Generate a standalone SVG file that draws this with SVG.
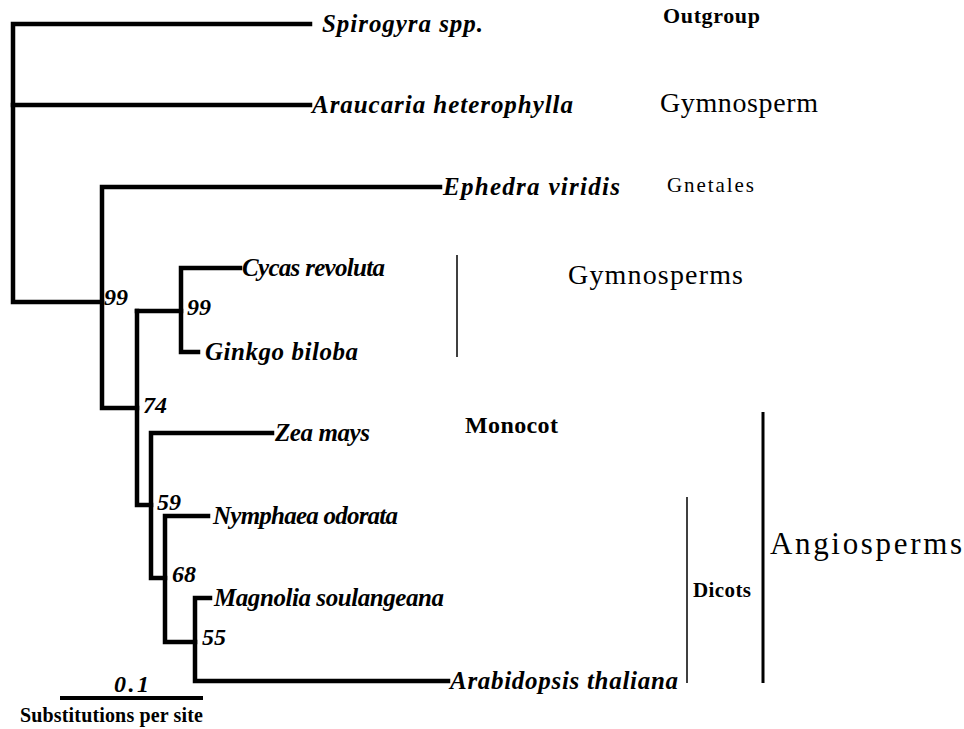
<svg xmlns="http://www.w3.org/2000/svg" width="964" height="729" viewBox="0 0 964 729">
<style>
.br{fill:none;stroke:#000;stroke-width:4.5;stroke-linecap:square;stroke-linejoin:miter}
.tx{font-family:"Liberation Serif","Times New Roman",serif;font-style:italic;font-weight:bold;font-size:25px;fill:#000}
.bs{font-family:"Liberation Serif","Times New Roman",serif;font-style:italic;font-weight:bold;font-size:24px;fill:#000}
.lb{font-family:"Liberation Serif","Times New Roman",serif;fill:#000}
.bar{stroke:#000;fill:none}
</style>
<rect width="964" height="729" fill="#fff"/>
<g id="connectors">
<path class="br" d="M310,24 H13 V302 H102"/>
<path class="br" d="M13,105 H310"/>
<path class="br" d="M440,187 H102 V408 H137"/>
<path class="br" d="M240,268 H181 V352 H198"/>
<path class="br" d="M137,311 H181"/>
<path class="br" d="M137,311 V505 H151"/>
<path class="br" d="M272,433 H151 V578 H165"/>
<path class="br" d="M208,516 H165 V642 H195"/>
<path class="br" d="M210,598 H195 V681 H448"/>
</g>
<g id="taxa">
<text id="t-spirogyra" class="tx" x="322" y="32" textLength="161" lengthAdjust="spacing">Spirogyra spp.</text>
<text id="t-araucaria" class="tx" x="312" y="113" textLength="261" lengthAdjust="spacing">Araucaria heterophylla</text>
<text id="t-ephedra" class="tx" x="443" y="195" textLength="177" lengthAdjust="spacing">Ephedra viridis</text>
<text id="t-cycas" class="tx" x="242" y="276" textLength="143" lengthAdjust="spacing">Cycas revoluta</text>
<text id="t-ginkgo" class="tx" x="205" y="360" textLength="153" lengthAdjust="spacing">Ginkgo biloba</text>
<text id="t-zea" class="tx" x="275" y="441" textLength="95" lengthAdjust="spacing">Zea mays</text>
<text id="t-nymphaea" class="tx" x="213" y="524" textLength="185" lengthAdjust="spacing">Nymphaea odorata</text>
<text id="t-magnolia" class="tx" x="214" y="606" textLength="230" lengthAdjust="spacing">Magnolia soulangeana</text>
<text id="t-arabidopsis" class="tx" x="450" y="689" textLength="228" lengthAdjust="spacing">Arabidopsis thaliana</text>
</g>
<g id="bootstrap">
<text class="bs" x="104" y="305">99</text>
<text class="bs" x="187" y="315">99</text>
<text class="bs" x="143" y="413">74</text>
<text class="bs" x="157" y="510">59</text>
<text class="bs" x="172" y="582">68</text>
<text class="bs" x="202" y="645">55</text>
</g>
<g id="groups">
<text id="g-outgroup" class="lb" x="663" y="23" font-size="22" font-weight="bold" textLength="97" lengthAdjust="spacing">Outgroup</text>
<text id="g-gymnosperm" class="lb" x="660" y="112" font-size="28" textLength="158" lengthAdjust="spacing">Gymnosperm</text>
<text id="g-gnetales" class="lb" x="667" y="192" font-size="21" textLength="87" lengthAdjust="spacing">Gnetales</text>
<g id="g-gymnosperms">
<line class="bar" x1="457" y1="255" x2="457" y2="357" stroke-width="1.5"/>
<text class="lb" x="568" y="284" font-size="28" textLength="175" lengthAdjust="spacing">Gymnosperms</text>
</g>
<text id="g-monocot" class="lb" x="465" y="433" font-size="24" font-weight="bold" textLength="93" lengthAdjust="spacing">Monocot</text>
<g id="g-dicots">
<line class="bar" x1="687" y1="497" x2="687" y2="683" stroke-width="1.5"/>
<text class="lb" x="693" y="597" font-size="21" font-weight="bold" textLength="58" lengthAdjust="spacing">Dicots</text>
</g>
<g id="g-angiosperms">
<line class="bar" x1="763" y1="412" x2="763" y2="683" stroke-width="3"/>
<text class="lb" x="770" y="554" font-size="31" textLength="192" lengthAdjust="spacing">Angiosperms</text>
</g>
</g>
<g id="scale">
<line class="bar" x1="60" y1="698" x2="203" y2="698" stroke-width="4"/>
<text class="bs" x="114" y="692" font-size="24" textLength="35" lengthAdjust="spacing">0.1</text>
<text class="lb" x="20" y="722" font-size="20" font-weight="bold" textLength="183" lengthAdjust="spacing">Substitutions per site</text>
</g>
</svg>
